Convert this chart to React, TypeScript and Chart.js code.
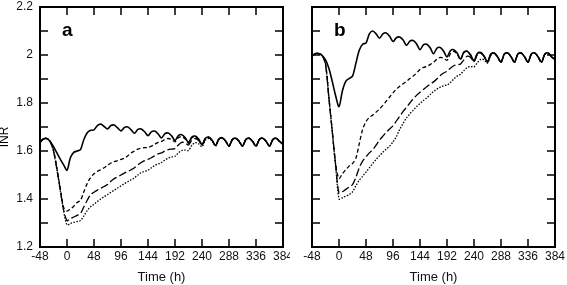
import React, { useEffect, useRef } from "react";
import { Chart, registerables } from "chart.js";
Chart.register(...registerables);

// time axis (hours), 6 h step
const TIMES = [
  -48, -42, -36, -30, -24, -18, -12, -6, 0, 6, 12, 18,
  24, 30, 36, 42, 48, 54, 60, 66, 72, 78, 84, 90,
  96, 102, 108, 114, 120, 126, 132, 138, 144, 150, 156, 162,
  168, 174, 180, 186, 192, 198, 204, 210, 216, 222, 228, 234,
  240, 246, 252, 258, 264, 270, 276, 282, 288, 294, 300, 306,
  312, 318, 324, 330, 336, 342, 348, 354, 360, 366, 372, 378,
  384,
];

const X_TICKS_STEP = 48;
const Y_MIN = 1.2;
const Y_MAX = 2.2;

// Panel a
const A_SOLID = [
  1.636, 1.650, 1.652, 1.640, 1.618, 1.592, 1.566, 1.542, 1.520, 1.572, 1.594, 1.600,
  1.606, 1.648, 1.676, 1.686, 1.688, 1.706, 1.712, 1.702, 1.692, 1.706, 1.708, 1.696,
  1.684, 1.698, 1.700, 1.688, 1.674, 1.690, 1.692, 1.680, 1.664, 1.680, 1.683, 1.671,
  1.654, 1.672, 1.675, 1.663, 1.644, 1.664, 1.668, 1.656, 1.636, 1.658, 1.662, 1.650,
  1.628, 1.653, 1.658, 1.645, 1.623, 1.650, 1.655, 1.642, 1.620, 1.648, 1.653, 1.640,
  1.620, 1.648, 1.653, 1.640, 1.620, 1.648, 1.653, 1.640, 1.620, 1.648, 1.653, 1.640,
  1.628,
];
const A_SHORT = [
  1.636, 1.650, 1.652, 1.640, 1.605, 1.530, 1.445, 1.365, 1.350, 1.358, 1.370, 1.385,
  1.395, 1.430, 1.465, 1.490, 1.505, 1.515, 1.522, 1.530, 1.540, 1.550, 1.556, 1.560,
  1.565, 1.570, 1.580, 1.592, 1.600, 1.608, 1.612, 1.614, 1.615, 1.620, 1.628, 1.636,
  1.640, 1.648, 1.652, 1.648, 1.638, 1.655, 1.660, 1.650, 1.632, 1.655, 1.660, 1.648,
  1.626, 1.652, 1.657, 1.644, 1.622, 1.649, 1.654, 1.641, 1.620, 1.648, 1.653, 1.640,
  1.620, 1.648, 1.653, 1.640, 1.620, 1.648, 1.653, 1.640, 1.620, 1.648, 1.653, 1.640,
  1.628,
];
const A_LONG = [
  1.636, 1.650, 1.652, 1.640, 1.600, 1.525, 1.440, 1.355, 1.310, 1.318, 1.325, 1.332,
  1.340, 1.368, 1.395, 1.418, 1.428, 1.437, 1.445, 1.452, 1.460, 1.474, 1.485, 1.492,
  1.500, 1.508, 1.515, 1.522, 1.530, 1.542, 1.552, 1.560, 1.565, 1.572, 1.580, 1.588,
  1.592, 1.600, 1.606, 1.608, 1.610, 1.625, 1.636, 1.634, 1.625, 1.645, 1.652, 1.644,
  1.624, 1.650, 1.656, 1.643, 1.621, 1.649, 1.654, 1.641, 1.620, 1.648, 1.653, 1.640,
  1.620, 1.648, 1.653, 1.640, 1.620, 1.648, 1.653, 1.640, 1.620, 1.648, 1.653, 1.640,
  1.628,
];
const A_DOT = [
  1.636, 1.650, 1.652, 1.640, 1.598, 1.522, 1.436, 1.350, 1.292, 1.298, 1.303, 1.306,
  1.310, 1.330, 1.352, 1.368, 1.378, 1.390, 1.400, 1.410, 1.418, 1.428, 1.437, 1.446,
  1.455, 1.464, 1.472, 1.480, 1.488, 1.500, 1.510, 1.515, 1.520, 1.530, 1.540, 1.546,
  1.552, 1.562, 1.570, 1.575, 1.578, 1.592, 1.602, 1.604, 1.602, 1.624, 1.635, 1.630,
  1.618, 1.645, 1.652, 1.642, 1.620, 1.648, 1.654, 1.641, 1.620, 1.648, 1.653, 1.640,
  1.620, 1.648, 1.653, 1.640, 1.620, 1.648, 1.653, 1.640, 1.620, 1.648, 1.653, 1.640,
  1.628,
];

// Panel b
const B_SOLID = [
  1.995, 2.006, 2.006, 1.998, 1.980, 1.945, 1.890, 1.830, 1.785, 1.850, 1.890, 1.902,
  1.912, 1.965, 2.020, 2.045, 2.050, 2.088, 2.100, 2.088, 2.070, 2.088, 2.092, 2.078,
  2.056, 2.072, 2.075, 2.062, 2.040, 2.058, 2.060, 2.046, 2.022, 2.042, 2.045, 2.030,
  2.005, 2.028, 2.031, 2.016, 1.992, 2.018, 2.022, 2.008, 1.983, 2.012, 2.016, 2.000,
  1.976, 2.006, 2.010, 1.995, 1.972, 2.004, 2.008, 1.992, 1.970, 2.004, 2.008, 1.992,
  1.970, 2.004, 2.008, 1.992, 1.970, 2.004, 2.008, 1.992, 1.970, 2.004, 2.008, 1.992,
  1.982,
];
const B_SHORT = [
  1.995, 2.006, 2.006, 1.998, 1.965, 1.825, 1.685, 1.545, 1.485, 1.505, 1.522, 1.537,
  1.548, 1.570, 1.630, 1.690, 1.722, 1.740, 1.750, 1.762, 1.775, 1.790, 1.808, 1.825,
  1.842, 1.858, 1.870, 1.880, 1.890, 1.902, 1.912, 1.925, 1.940, 1.948, 1.952, 1.960,
  1.970, 1.982, 1.990, 1.986, 1.978, 2.005, 2.015, 2.004, 1.980, 2.010, 2.015, 1.999,
  1.974, 2.005, 2.009, 1.994, 1.971, 2.004, 2.008, 1.992, 1.970, 2.004, 2.008, 1.992,
  1.970, 2.004, 2.008, 1.992, 1.970, 2.004, 2.008, 1.992, 1.970, 2.004, 2.008, 1.992,
  1.982,
];
const B_LONG = [
  1.995, 2.006, 2.006, 1.998, 1.962, 1.822, 1.682, 1.542, 1.425, 1.430, 1.440, 1.450,
  1.460, 1.490, 1.530, 1.558, 1.575, 1.592, 1.606, 1.625, 1.645, 1.662, 1.678, 1.692,
  1.705, 1.725, 1.745, 1.765, 1.782, 1.800, 1.818, 1.832, 1.845, 1.856, 1.868, 1.878,
  1.888, 1.900, 1.915, 1.925, 1.932, 1.945, 1.955, 1.960, 1.962, 1.980, 1.995, 1.990,
  1.972, 2.002, 2.008, 1.994, 1.970, 2.004, 2.008, 1.992, 1.970, 2.004, 2.008, 1.992,
  1.970, 2.004, 2.008, 1.992, 1.970, 2.004, 2.008, 1.992, 1.970, 2.004, 2.008, 1.992,
  1.982,
];
const B_DOT = [
  1.995, 2.006, 2.006, 1.998, 1.960, 1.820, 1.680, 1.540, 1.400, 1.405, 1.412, 1.418,
  1.430, 1.455, 1.478, 1.495, 1.512, 1.530, 1.548, 1.565, 1.580, 1.595, 1.608, 1.620,
  1.638, 1.660, 1.690, 1.715, 1.738, 1.755, 1.770, 1.785, 1.798, 1.810, 1.822, 1.835,
  1.848, 1.858, 1.866, 1.872, 1.875, 1.885, 1.900, 1.912, 1.920, 1.935, 1.948, 1.952,
  1.950, 1.968, 1.982, 1.980, 1.966, 1.998, 2.006, 1.992, 1.970, 2.004, 2.008, 1.992,
  1.970, 2.004, 2.008, 1.992, 1.970, 2.004, 2.008, 1.992, 1.970, 2.004, 2.008, 1.992,
  1.982,
];

const FONT = "'Liberation Sans', Arial, Helvetica, sans-serif";

const frameTicks = {
  id: "frameTicks",
  afterDraw(chart: any, _args: any, opts: any) {
    const { ctx, chartArea } = chart;
    const { left, right, top, bottom } = chartArea;
    const xs = chart.scales.x;
    const ys = chart.scales.y;
    const L = 8;
    ctx.save();
    ctx.strokeStyle = "#000";
    ctx.lineWidth = 1.5;
    ctx.beginPath();
    xs.ticks.forEach((t: any) => {
      const px = Math.round(xs.getPixelForValue(t.value));
      ctx.moveTo(px, bottom);
      ctx.lineTo(px, bottom - L);
      ctx.moveTo(px, top);
      ctx.lineTo(px, top + L);
    });
    ys.ticks.forEach((t: any) => {
      const py = Math.round(ys.getPixelForValue(t.value));
      ctx.moveTo(left, py);
      ctx.lineTo(left + L, py);
      ctx.moveTo(right, py);
      ctx.lineTo(right - L, py);
    });
    ctx.stroke();
    ctx.lineWidth = 2;
    ctx.strokeRect(left, top, right - left, bottom - top);
    // panel letter
    ctx.fillStyle = "#000";
    ctx.font = `bold 19px ${FONT}`;
    ctx.textAlign = "left";
    ctx.textBaseline = "alphabetic";
    ctx.fillText(opts.letter, left + 22, top + 29);
    if (opts.yTitle) {
      ctx.save();
      ctx.translate(5, 137);
      ctx.rotate(-Math.PI / 2);
      ctx.font = `12px ${FONT}`;
      ctx.textAlign = "center";
      ctx.textBaseline = "middle";
      ctx.fillText(opts.yTitle, 0, 0);
      ctx.restore();
    }
    ctx.restore();
  },
};

function makeDatasets(solid: number[], short: number[], long: number[], dot: number[]) {
  const pts = (arr: number[]) => TIMES.map((t, i) => ({ x: t, y: arr[i] }));
  const base = { pointRadius: 0, borderColor: "#000", fill: false, tension: 0.3 };
  return [
    { ...base, label: "solid", data: pts(solid), borderWidth: 1.6 },
    { ...base, label: "short", data: pts(short), borderWidth: 1.3, borderDash: [4, 2.5] },
    { ...base, label: "long", data: pts(long), borderWidth: 1.3, borderDash: [8, 3] },
    { ...base, label: "dot", data: pts(dot), borderWidth: 1.3, borderDash: [1.5, 1.5] },
  ];
}

function Panel(props: {
  left: number;
  width: number;
  yAxisWidth: number;
  padRight: number;
  showYLabels: boolean;
  letter: string;
  yTitle?: string;
  series: number[][];
}) {
  const ref = useRef<HTMLCanvasElement | null>(null);
  useEffect(() => {
    if (!ref.current) return;
    const [s, sh, lo, d] = props.series;
    const chart = new Chart(ref.current, {
      type: "line",
      data: { datasets: makeDatasets(s, sh, lo, d) as any },
      plugins: [frameTicks as any],
      options: {
        animation: false,
        responsive: false,
        maintainAspectRatio: false,
        layout: { padding: { left: 0, right: props.padRight, top: 7, bottom: 0 } },
        plugins: {
          legend: { display: false },
          tooltip: { enabled: false },
          frameTicks: { letter: props.letter, yTitle: props.yTitle },
        } as any,
        scales: {
          x: {
            type: "linear",
            min: -48,
            max: 384,
            grid: { display: false, drawTicks: false },
            border: { display: false },
            ticks: {
              stepSize: X_TICKS_STEP,
              autoSkip: false,
              maxRotation: 0,
              padding: 2,
              color: "#111",
              font: { family: FONT, size: 12 },
            },
            title: {
              display: true,
              text: "Time (h)",
              color: "#111",
              font: { family: FONT, size: 13 },
              padding: { top: 0, bottom: 0 },
            },
            afterFit: (scale: any) => {
              scale.height = 38;
              scale.paddingLeft = 0;
              scale.paddingRight = 0;
            },
          },
          y: {
            type: "linear",
            min: Y_MIN,
            max: Y_MAX,
            grid: { display: false, drawTicks: false },
            border: { display: false },
            ticks: {
              stepSize: 0.1,
              display: props.showYLabels,
              padding: 7,
              color: "#111",
              font: { family: FONT, size: 12 },
              callback: (v: any) => {
                const k = Math.round(Number(v) * 10);
                return k % 2 === 0 ? String(k / 10) : "";
              },
            },
            afterFit: (scale: any) => {
              scale.width = props.yAxisWidth;
              scale.paddingTop = 0;
              scale.paddingBottom = 0;
            },
          },
        },
      } as any,
    });
    return () => chart.destroy();
  }, []);
  return (
    <canvas
      ref={ref}
      width={props.width}
      height={285}
      style={{ position: "absolute", left: props.left, top: 0, width: props.width, height: 285 }}
    />
  );
}

export default function App() {
  return (
    <div style={{ position: "absolute", left: 0, top: 0, width: 567, height: 285, background: "#fff" }}>
      <Panel
        left={0}
        width={290}
        yAxisWidth={40}
        padRight={7}
        showYLabels={true}
        letter="a"
        yTitle="INR"
        series={[A_SOLID, A_SHORT, A_LONG, A_DOT]}
      />
      <Panel
        left={290}
        width={277}
        yAxisWidth={22}
        padRight={12}
        showYLabels={false}
        letter="b"
        series={[B_SOLID, B_SHORT, B_LONG, B_DOT]}
      />
    </div>
  );
}
